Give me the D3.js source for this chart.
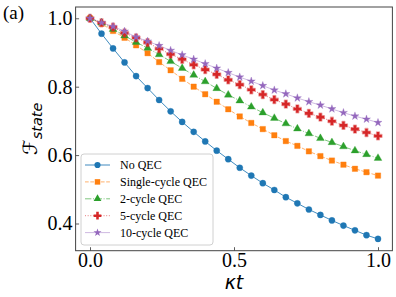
<!DOCTYPE html>
<html>
<head>
<meta charset="utf-8">
<script src="https://cdn.jsdelivr.net/npm/d3@7"></script>
<style>
  body { margin: 0; background: white; }
  svg { display: block; }
</style>
</head>
<body>
<div id="chart"></div>
<script>
const kappaT = [0, 0.04, 0.08, 0.12, 0.16, 0.2, 0.24, 0.28, 0.32, 0.36, 0.4, 0.44, 0.48,
  0.52, 0.56, 0.6, 0.64, 0.68, 0.72, 0.76, 0.8, 0.84, 0.88, 0.92, 0.96, 1.0];

const noQEC = [1.000, 0.955, 0.912, 0.871, 0.831, 0.796, 0.761, 0.728, 0.697, 0.668, 0.640, 0.613, 0.588,
  0.563, 0.540, 0.518, 0.498, 0.477, 0.459, 0.441, 0.425, 0.409, 0.394, 0.380, 0.366, 0.355];
const singleCycle = [1.000, 0.984, 0.963, 0.943, 0.921, 0.898, 0.872, 0.848, 0.823, 0.800, 0.778, 0.756, 0.734,
  0.713, 0.694, 0.676, 0.658, 0.641, 0.627, 0.611, 0.597, 0.584, 0.572, 0.560, 0.550, 0.540];
const twoCycle = [1.000, 0.987, 0.968, 0.949, 0.930, 0.913, 0.894, 0.874, 0.854, 0.834, 0.815, 0.795, 0.776,
  0.759, 0.741, 0.724, 0.708, 0.692, 0.677, 0.663, 0.649, 0.637, 0.625, 0.613, 0.602, 0.591];
const fiveCycle = [1.000, 0.987, 0.974, 0.957, 0.943, 0.929, 0.911, 0.895, 0.880, 0.864, 0.850, 0.836, 0.820,
  0.806, 0.791, 0.777, 0.762, 0.749, 0.735, 0.722, 0.711, 0.699, 0.687, 0.676, 0.666, 0.656];
const tenCycle = [1.000, 0.987, 0.976, 0.962, 0.945, 0.933, 0.920, 0.906, 0.893, 0.880, 0.867, 0.854, 0.841,
  0.828, 0.816, 0.803, 0.790, 0.779, 0.767, 0.756, 0.746, 0.735, 0.724, 0.714, 0.705, 0.695];

const seriesNames = ["No QEC", "Single-cycle QEC", "2-cycle QEC", "5-cycle QEC", "10-cycle QEC"];
const xTicks = [0, 0.5, 1.0];
const yTicks = [0.4, 0.6, 0.8, 1.0];

const width = 396, height = 297;
const box = { left: 75.6, right: 392.4, top: 7, bottom: 250.7 };

const series = [
  { name: seriesNames[0], values: noQEC, color: "#1f77b4", dash: null, symbol: d3.symbolCircle, size: 30, lineOpacity: 0.85 },
  { name: seriesNames[1], values: singleCycle, color: "#ff7f0e", dash: "3.7,1.6", symbol: d3.symbolSquare, size: 30, lineOpacity: 0.6 },
  { name: seriesNames[2], values: twoCycle, color: "#2ca02c", dash: "6.4,1.6,1,1.6", symbol: d3.symbolTriangle, size: 26, lineOpacity: 0.6 },
  { name: seriesNames[3], values: fiveCycle, color: "#d62728", dash: "1,1.65", symbol: d3.symbolCross, size: 33, lineOpacity: 0.6 },
  { name: seriesNames[4], values: tenCycle, color: "#9467bd", dash: null, symbol: d3.symbolStar, size: 20, lineOpacity: 0.45 }
];

const svg = d3.select("#chart").append("svg")
  .attr("width", width).attr("height", height)
  .attr("viewBox", [0, 0, width, height]);

const x = d3.scaleLinear().domain([-0.05, 1.05]).range([box.left, box.right]);
const y = d3.scaleLinear().domain([0.3205, 1.033]).range([box.bottom, box.top]);

// axes, ticks point inward
const gx = svg.append("g")
  .attr("transform", `translate(0, ${box.bottom})`)
  .call(d3.axisBottom(x).tickValues(xTicks).tickFormat(d3.format(".1f"))
    .tickSizeInner(-3.5).tickSizeOuter(0).tickPadding(2));
const gy = svg.append("g")
  .attr("transform", `translate(${box.left}, 0)`)
  .call(d3.axisLeft(y).tickValues(yTicks).tickFormat(d3.format(".1f"))
    .tickSizeInner(-3.5).tickSizeOuter(0).tickPadding(3));

[gx, gy].forEach((g) => {
  g.select(".domain").remove();
  g.selectAll(".tick line").attr("stroke", "#333").attr("stroke-width", 0.8);
  g.selectAll(".tick text")
    .attr("fill", "#000")
    .style("font-family", "'Liberation Serif', 'Times New Roman', serif")
    .style("font-size", "20px");
});

const line = d3.line().x((d, i) => x(kappaT[i])).y((d) => y(d));

series.forEach((s) => {
  svg.append("path")
    .datum(s.values)
    .attr("fill", "none")
    .attr("stroke", s.color)
    .attr("stroke-opacity", s.lineOpacity)
    .attr("stroke-width", 1)
    .attr("stroke-dasharray", s.dash)
    .attr("d", line);

  svg.append("g").selectAll("path")
    .data(s.values)
    .enter()
    .append("path")
    .attr("transform", (d, i) => `translate(${x(kappaT[i])}, ${y(d)})`)
    .attr("d", d3.symbol().type(s.symbol).size(s.size))
    .attr("fill", s.color)
    .attr("stroke", s.color)
    .attr("stroke-opacity", 0.4)
    .attr("stroke-width", s.symbol === d3.symbolCross ? 1.6 : 0.8)
    .attr("stroke-linejoin", "round");
});

// frame
svg.append("rect")
  .attr("x", box.left).attr("y", box.top)
  .attr("width", box.right - box.left).attr("height", box.bottom - box.top)
  .attr("fill", "none").attr("stroke", "#444").attr("stroke-width", 1);

// legend
const legend = svg.append("g");
legend.append("rect")
  .attr("x", 81).attr("y", 154).attr("width", 132).attr("height", 91).attr("rx", 3)
  .attr("fill", "white").attr("fill-opacity", 0.8)
  .attr("stroke", "#d0d0d0").attr("stroke-width", 1);

const rows = legend.selectAll("g.row")
  .data(series)
  .enter()
  .append("g")
  .attr("class", "row")
  .attr("transform", (d, i) => `translate(0, ${165 + i * 16.9})`);

rows.append("line")
  .attr("x1", 85).attr("x2", 110)
  .attr("stroke", (d) => d.color)
  .attr("stroke-opacity", (d) => d.lineOpacity)
  .attr("stroke-dasharray", (d) => d.dash)
  .attr("stroke-width", 1);
rows.append("path")
  .attr("transform", "translate(97.5, 0)")
  .attr("d", (d) => d3.symbol().type(d.symbol).size(d.size)())
  .attr("fill", (d) => d.color);
rows.append("text")
  .attr("x", 120).attr("dy", "0.35em")
  .style("font-family", "'Liberation Serif', 'Times New Roman', serif")
  .style("font-size", "12px")
  .text((d) => d.name);

// y label
const yl = svg.append("text")
  .attr("transform", `translate(37, ${(box.top + box.bottom) / 2}) rotate(-90)`)
  .attr("text-anchor", "middle");
yl.append("tspan")
  .style("font-family", "'DejaVu Sans', sans-serif")
  .style("font-size", "20px")
  .text("ℱ");
yl.append("tspan")
  .attr("dy", 5)
  .style("font-family", "'DejaVu Sans', sans-serif")
  .style("font-style", "italic")
  .style("font-size", "14.5px")
  .text("state");

// x label
svg.append("text")
  .attr("x", x(0.5)).attr("y", 289)
  .attr("text-anchor", "middle")
  .style("font-family", "'DejaVu Sans', sans-serif")
  .style("font-style", "italic")
  .style("font-size", "19px")
  .text("κt");

svg.append("text")
  .attr("x", 3).attr("y", 19)
  .style("font-family", "'Liberation Serif', 'Times New Roman', serif")
  .style("font-size", "19px")
  .text("(a)");
</script>
</body>
</html>
